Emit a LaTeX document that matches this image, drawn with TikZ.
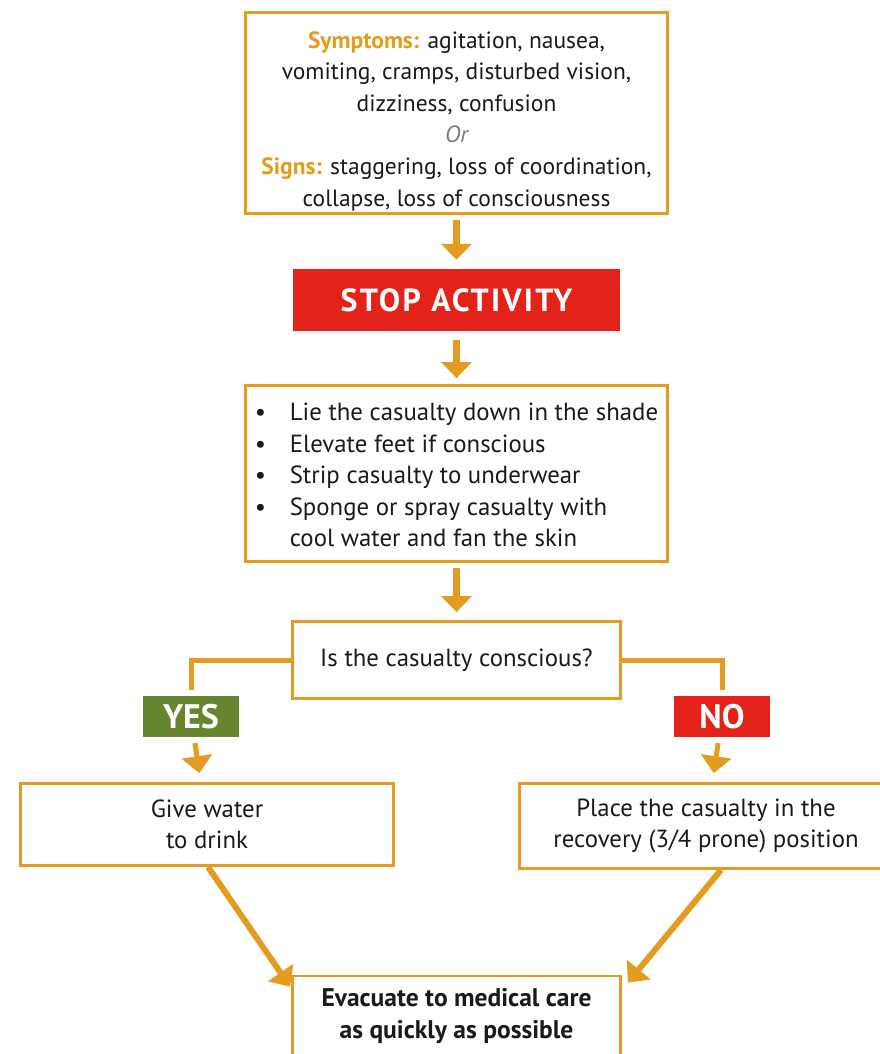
\documentclass[tikz,border=0pt]{standalone}
\usepackage{fontspec}
\setmainfont{PT Sans}
\usetikzlibrary{arrows.meta, positioning}
\usepackage{xcolor}

\definecolor{flowor}{HTML}{E49C20}
\definecolor{stopred}{HTML}{E32219}
\definecolor{yesgreen}{HTML}{67852E}
\definecolor{inktext}{HTML}{1A1A1A}
\definecolor{ortext}{HTML}{7A7A7A}

\tikzset{
  stepbox/.style={draw=flowor, line width=2.8pt, fill=white, text=inktext,
    align=center, inner sep=0pt, font=\fontsize{24.8}{31.6}\selectfont},
  tagbox/.style={fill=#1, text=white, inner sep=0pt,
    font=\bfseries\fontsize{32}{34}\selectfont},
  flowarrow/.style={draw=flowor, line width=7pt, -{Triangle[width=30pt,length=16pt,fill=flowor]}},
  smallarrow/.style={draw=flowor, line width=5pt, -{Triangle[width=30pt,length=17pt,fill=flowor]}},
  branchline/.style={draw=flowor, line width=5pt}
}

\begin{document}
\begin{tikzpicture}[x=1pt, y=-1pt, line join=miter]
\useasboundingbox (0,0) rectangle (879,1054);

\node[stepbox, font=\fontsize{23.5}{31.6}\selectfont,
  minimum width=422pt, minimum height=201pt] (symptoms) at (456.5,113)
  {\rule{0pt}{33pt}\textbf{\color{flowor}Symptoms:} agitation, nausea,\\
   vomiting, cramps, disturbed vision,\\
   dizziness, confusion\\
   {\color{ortext}\itshape Or}\\
   \textbf{\color{flowor}Signs:} staggering, loss of coordination,\\
   collapse, loss of consciousness};

\node[tagbox=stopred, minimum width=327pt, minimum height=62pt] (stop) at (456.5,300)
  {\addfontfeature{LetterSpace=7}STOP ACTIVITY};

\node[stepbox, minimum width=422pt, minimum height=176pt] (firstaid) at (456.5,473.5)
  {\begin{tabular}{@{}p{35pt}@{}l@{}}
   \rule{0pt}{30pt}\textbullet & Lie the casualty down in the shade\\
   \textbullet & Elevate feet if conscious\\
   \textbullet & Strip casualty to underwear\\
   \textbullet & Sponge or spray casualty with\\
               & cool water and fan the skin
   \end{tabular}};

\node[stepbox, minimum width=328pt, minimum height=77pt] (conscious) at (456.5,660)
  {Is the casualty conscious?};

\node[tagbox=yesgreen, font=\bfseries\fontsize{34}{36}\selectfont,
  minimum width=96pt, minimum height=41pt] (yes) at (191,716.5) {YES};
\node[tagbox=stopred, font=\bfseries\fontsize{34}{36}\selectfont,
  minimum width=96pt, minimum height=41pt] (no) at (722,716.5) {NO};

\node[stepbox, minimum width=373pt, minimum height=82pt] (water) at (207,824.5)
  {Give water\\ to drink};
\node[stepbox, minimum width=373pt, minimum height=85pt] (recovery) at (706,826)
  {Place the casualty in the\\ recovery (3/4 prone) position};

\node[stepbox, font=\bfseries\fontsize{25.5}{31.6}\selectfont,
  minimum width=328pt, minimum height=80pt] (evacuate) at (456.5,1016)
  {Evacuate to medical care\\ as quickly as possible};

% main line
\draw[flowarrow, shorten <=5pt, shorten >=9pt] (symptoms) -- (stop);
\draw[flowarrow, shorten <=9pt, shorten >=6pt] (stop) -- (firstaid);
\draw[flowarrow, shorten <=5pt, shorten >=8pt] (firstaid) -- (conscious);

% branches
\draw[branchline, shorten >=6pt] (conscious.west) -| (yes.north);
\draw[branchline, shorten >=6pt] (conscious.east) -| (no.north);
\draw[smallarrow, shorten <=6pt, shorten >=9pt] (yes) -- (water);
\draw[smallarrow, shorten <=6pt, shorten >=9pt] (no) -- (recovery);

% to evacuation
\draw[smallarrow, line width=6pt] ([xshift=1pt]water.south) -- ([xshift=-1pt,yshift=-12pt]evacuate.north west);
\draw[smallarrow, line width=6pt] ([xshift=15pt]recovery.south) -- ([xshift=6pt,yshift=-8pt]evacuate.north east);

\end{tikzpicture}
\end{document}
